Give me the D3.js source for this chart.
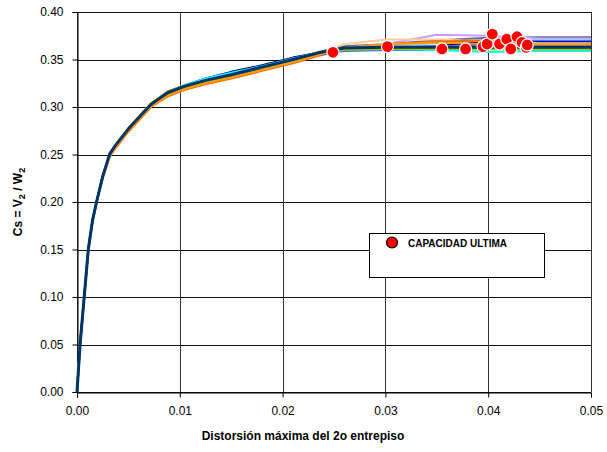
<!DOCTYPE html>
<html>
<head>
<meta charset="utf-8">
<script src="https://cdn.jsdelivr.net/npm/d3@7"></script>
<style>
  body { margin: 0; background: #fff; }
  text { font-family: Arial, "Liberation Sans", sans-serif; }
</style>
</head>
<body>
<div id="chart"></div>
<script>
// distorsion (x) comun a todas las curvas
const drift = [0, 0.0003, 0.0007, 0.0011, 0.0015, 0.0019, 0.0025, 0.0032, 0.0037, 0.0050,
  0.0072, 0.0088, 0.0105, 0.0125, 0.0150, 0.0180, 0.0210, 0.0235, 0.0260, 0.0300,
  0.0350, 0.0400, 0.0450, 0.0500];

// Cs de cada registro
const cs01 = [0, 0.05, 0.10, 0.15, 0.18, 0.20, 0.226, 0.250, 0.258, 0.276, 0.302, 0.315, 0.322, 0.328, 0.334, 0.342, 0.350, 0.358, 0.364, 0.366, 0.370, 0.373, 0.3735, 0.3735];
const cs02 = [0, 0.05, 0.10, 0.15, 0.18, 0.20, 0.226, 0.250, 0.258, 0.276, 0.302, 0.314, 0.321, 0.327, 0.333, 0.341, 0.349, 0.356, 0.362, 0.366, 0.376, 0.375, 0.372, 0.372];
const cs03 = [0, 0.05, 0.10, 0.15, 0.18, 0.20, 0.226, 0.250, 0.258, 0.277, 0.303, 0.315, 0.322, 0.329, 0.335, 0.342, 0.350, 0.357, 0.362, 0.364, 0.367, 0.371, 0.371, 0.371];
const cs04 = [0, 0.05, 0.10, 0.15, 0.18, 0.20, 0.227, 0.251, 0.259, 0.277, 0.303, 0.316, 0.323, 0.330, 0.337, 0.344, 0.352, 0.357, 0.361, 0.362, 0.364, 0.369, 0.369, 0.369];
const cs05 = [0, 0.05, 0.10, 0.15, 0.18, 0.20, 0.226, 0.250, 0.258, 0.276, 0.302, 0.314, 0.321, 0.327, 0.333, 0.341, 0.349, 0.356, 0.360, 0.360, 0.360, 0.368, 0.3685, 0.3685];
const cs06 = [0, 0.05, 0.10, 0.15, 0.18, 0.20, 0.225, 0.249, 0.257, 0.275, 0.301, 0.313, 0.320, 0.326, 0.332, 0.340, 0.348, 0.357, 0.366, 0.371, 0.371, 0.369, 0.367, 0.367];
const cs07 = [0, 0.05, 0.10, 0.15, 0.18, 0.20, 0.225, 0.248, 0.256, 0.274, 0.300, 0.311, 0.318, 0.324, 0.330, 0.338, 0.346, 0.354, 0.360, 0.366, 0.369, 0.370, 0.365, 0.365];
const cs08 = [0, 0.05, 0.10, 0.15, 0.18, 0.20, 0.227, 0.251, 0.259, 0.277, 0.303, 0.315, 0.322, 0.328, 0.334, 0.342, 0.350, 0.357, 0.362, 0.363, 0.364, 0.364, 0.364, 0.364];
const cs09 = [0, 0.05, 0.10, 0.15, 0.18, 0.20, 0.227, 0.251, 0.260, 0.278, 0.304, 0.316, 0.323, 0.328, 0.334, 0.342, 0.350, 0.357, 0.361, 0.362, 0.362, 0.3625, 0.3625, 0.3625];
const cs10 = [0, 0.05, 0.10, 0.15, 0.18, 0.20, 0.226, 0.250, 0.258, 0.276, 0.302, 0.314, 0.321, 0.327, 0.333, 0.341, 0.349, 0.355, 0.359, 0.360, 0.360, 0.361, 0.361, 0.361];
const cs11 = [0, 0.05, 0.10, 0.15, 0.18, 0.20, 0.226, 0.250, 0.258, 0.277, 0.303, 0.315, 0.322, 0.328, 0.334, 0.342, 0.350, 0.357, 0.362, 0.363, 0.363, 0.3625, 0.3625, 0.3625];
const cs12 = [0, 0.05, 0.10, 0.15, 0.18, 0.20, 0.226, 0.250, 0.258, 0.276, 0.302, 0.315, 0.323, 0.330, 0.336, 0.343, 0.351, 0.357, 0.361, 0.361, 0.360, 0.358, 0.359, 0.359];
const cs13 = [0, 0.05, 0.10, 0.15, 0.18, 0.20, 0.226, 0.250, 0.258, 0.276, 0.302, 0.314, 0.321, 0.327, 0.333, 0.341, 0.349, 0.356, 0.360, 0.361, 0.361, 0.3605, 0.3605, 0.3605];
const cs14 = [0, 0.05, 0.10, 0.15, 0.18, 0.20, 0.225, 0.249, 0.257, 0.275, 0.301, 0.312, 0.319, 0.325, 0.331, 0.339, 0.347, 0.355, 0.362, 0.366, 0.368, 0.366, 0.366, 0.366];
const cs15 = [0, 0.05, 0.10, 0.15, 0.18, 0.20, 0.227, 0.251, 0.259, 0.277, 0.303, 0.315, 0.322, 0.328, 0.334, 0.342, 0.350, 0.357, 0.362, 0.363, 0.363, 0.363, 0.363, 0.363];

const seriesCs = [cs01, cs02, cs03, cs04, cs05, cs06, cs07, cs08, cs09, cs10, cs11, cs12, cs13, cs14, cs15];
const seriesColors = ["#666699", "#CC99FF", "#99CCFF", "#000080", "#0000FF", "#FFCC99", "#FF6600",
  "#969696", "#FFCC00", "#3366FF", "#C0C0C0", "#00FFFF", "#99CC00", "#FF9900", "#003366"];

// capacidad ultima de cada registro
const ultDrift = [0.0249, 0.0302, 0.0355, 0.0378, 0.0395, 0.0399, 0.0404, 0.0411, 0.0418, 0.0422, 0.0428, 0.0433, 0.0437, 0.0438];
const ultCs = [0.3576, 0.3635, 0.3611, 0.3611, 0.3635, 0.3663, 0.3768, 0.3663, 0.3713, 0.3611, 0.3740, 0.3680, 0.3628, 0.3653];

const xTicks = [0, 0.01, 0.02, 0.03, 0.04, 0.05];
const yTicks = [0, 0.05, 0.10, 0.15, 0.20, 0.25, 0.30, 0.35, 0.40];

const W = 607, H = 452;
const mLeft = 77, mRight = 591, mTop = 12, mBottom = 392;

const svg = d3.select("#chart").append("svg")
  .attr("width", W).attr("height", H);

const x = d3.scaleLinear().domain([0, 0.05]).range([mLeft, mRight]);
const y = d3.scaleLinear().domain([0, 0.40]).range([mBottom, mTop]);

// rejilla
svg.append("g").selectAll("line").data(yTicks).enter().append("line")
  .attr("x1", mLeft).attr("x2", mRight)
  .attr("y1", d => Math.round(y(d)) + 0.5).attr("y2", d => Math.round(y(d)) + 0.5)
  .style("stroke", "#111").style("stroke-width", 1);
svg.append("g").selectAll("line").data(xTicks).enter().append("line")
  .attr("x1", d => Math.round(x(d)) + 0.5).attr("x2", d => Math.round(x(d)) + 0.5)
  .attr("y1", mTop).attr("y2", mBottom)
  .style("stroke", "#333").style("stroke-width", 1);

// ejes
const yAxis = svg.append("g")
  .attr("transform", `translate(${mLeft + 0.5},0)`)
  .call(d3.axisLeft(y).tickValues(yTicks).tickFormat(d3.format(".2f")).tickSize(5).tickPadding(9));
const xAxis = svg.append("g")
  .attr("transform", `translate(0,${mBottom + 0.5})`)
  .call(d3.axisBottom(x).tickValues(xTicks).tickFormat(d3.format(".2f")).tickSize(5).tickPadding(9));
[yAxis, xAxis].forEach(a => {
  a.select(".domain").style("stroke", "#000");
  a.selectAll(".tick line").style("stroke", "#000");
  a.selectAll("text").style("font-size", "12px").style("fill", "#000")
    .style("font-family", "Arial, 'Liberation Sans', sans-serif");
});

// curvas
const line = d3.line().x(d => x(d[0])).y(d => y(d[1]));
svg.append("g").selectAll("path").data(seriesCs).enter().append("path")
  .attr("d", s => line(drift.map((d, i) => [d, s[i]])))
  .style("fill", "none")
  .style("stroke", (s, i) => seriesColors[i])
  .style("stroke-width", (s, i) => i === seriesCs.length - 1 ? 3 : 2)
  .style("stroke-linejoin", "round");

// puntos de capacidad ultima
svg.append("g").selectAll("circle").data(ultDrift).enter().append("circle")
  .attr("cx", d => x(d))
  .attr("cy", (d, i) => y(ultCs[i]))
  .attr("r", 6)
  .style("fill", "#FF0000")
  .style("stroke", "#fff")
  .style("stroke-width", 1.2);

// leyenda
const lg = svg.append("g");
lg.append("rect").attr("x", 369.5).attr("y", 233.5).attr("width", 175).attr("height", 44)
  .style("fill", "#fff").style("stroke", "#000").style("stroke-width", 1);
lg.append("circle").attr("cx", 392).attr("cy", 242.5).attr("r", 5.5)
  .style("fill", "#FF0000").style("stroke", "#000").style("stroke-width", 1.2);
lg.append("text").attr("x", 408).attr("y", 246.5)
  .style("font-size", "10px").style("font-weight", "bold").text("CAPACIDAD ULTIMA");

// titulos de ejes
svg.append("text").attr("x", (mLeft + mRight) / 2 - 31).attr("y", 440)
  .attr("text-anchor", "middle")
  .style("font-size", "12px").style("font-weight", "bold")
  .text("Distorsión máxima del 2o entrepiso");

const yl = svg.append("text")
  .attr("transform", "translate(22,202) rotate(-90)")
  .attr("text-anchor", "middle")
  .style("font-size", "12px").style("font-weight", "bold");
yl.append("tspan").text("Cs = V");
yl.append("tspan").attr("dy", 3).style("font-size", "9px").text("2");
yl.append("tspan").attr("dy", -3).text(" / W");
yl.append("tspan").attr("dy", 3).style("font-size", "9px").text("2");
</script>
</body>
</html>
